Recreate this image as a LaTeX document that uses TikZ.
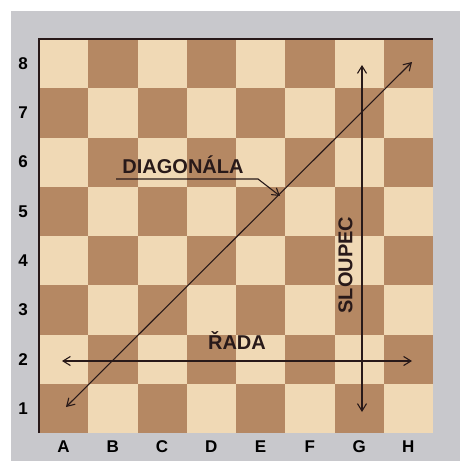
\documentclass[tikz,border=0pt]{standalone}
\usepackage{fontspec}
\setmainfont{Liberation Sans}
\usetikzlibrary{arrows.meta,positioning}
\definecolor{lightsq}{RGB}{240,217,181}
\definecolor{darksq}{RGB}{181,136,99}
\definecolor{frame}{RGB}{200,200,204}
\definecolor{ink}{RGB}{40,25,25}

\begin{document}
\begin{tikzpicture}[
x=1pt, y=-1pt,
coord/.style={font=\bfseries\fontsize{17}{17}\selectfont, text=black, inner sep=0pt},
tag/.style={font=\bfseries\fontsize{20}{20}\selectfont, text=ink, inner sep=0pt},
arrow/.style={{Straight Barb[length=2.6mm,width=3.2mm]}-{Straight Barb[length=2.6mm,width=3.2mm]}, line width=1.1pt, draw=ink},
pointer/.style={-{Straight Barb[length=2.4mm,width=3mm]}, line width=1.1pt, draw=ink}
]
\useasboundingbox (0,0) rectangle (463,461);
\fill[white] (0,0) rectangle (463,461);
\fill[frame] (11,11) rectangle (460,461);

% board
\fill[lightsq] (39,39) rectangle (433,433);
\foreach \c in {0,...,7}
  \foreach \r in {0,...,7} {
    \pgfmathparse{int(mod(\c+\r,2))}
    \ifnum\pgfmathresult=1
      \fill[darksq] ({39+49.25*\c},{39+49.25*\r}) rectangle +(49.25,49.25);
    \fi
  }
\draw[ink, line width=1.2pt] (39,433) -- (39,39) -- (433,39);

% ranks and files
\foreach \n [count=\i] in {8,7,6,5,4,3,2,1}
  \node[coord] (rank\n) at (23,{39+49.25*(\i-0.5)}) {\n};
\foreach \f [count=\i] in {A,B,C,D,E,F,G,H}
  \node[coord] (file\f) at ({39+49.25*(\i-0.5)},447) {\f};

% labels
\node[tag] (diag) at (183,165) {DIAGONÁLA};
\node[tag] (rada) at (237,341) {ŘADA};
\node[tag, rotate=90] (sloupec) at (345.5,265) {SLOUPEC};

\coordinate (diagLo) at (66,407);
\coordinate (diagHi) at (412,62);
\coordinate (colTop) at (362,65);
\coordinate (colBot) at (362,412);
\coordinate (rowL) at (62,361);
\coordinate (rowR) at (412,361);
\coordinate (ulStart) at (116,179);
\coordinate (ulEnd) at (258,179);
\coordinate (ulTip) at (280,196);

\draw[arrow] (diagLo) -- (diagHi);
\draw[arrow] (colTop) -- (colBot);
\draw[arrow] (rowL) -- (rowR);
\draw[pointer] (ulStart) -- (ulEnd) -- (ulTip);
\end{tikzpicture}
\end{document}
